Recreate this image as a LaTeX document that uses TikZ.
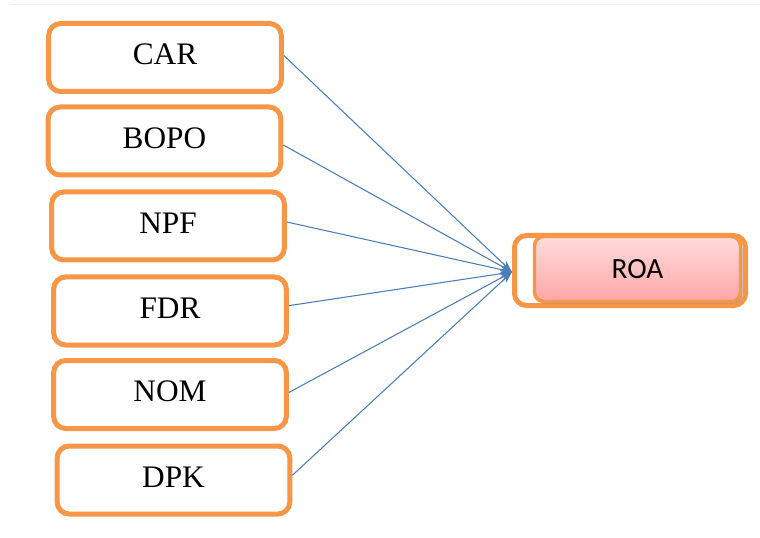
\documentclass[tikz,border=0pt]{standalone}
\usepackage{fontspec}
\setmainfont{Liberation Serif}
\newfontfamily\roafont{Carlito}
\usetikzlibrary{arrows.meta,shadows}
\definecolor{boxorange}{HTML}{F79646}
\definecolor{linkblue}{HTML}{4A7EBB}
\definecolor{pinktop}{HTML}{FFDCDC}
\definecolor{pinkbottom}{HTML}{FFA6A6}
\definecolor{rulegray}{HTML}{EEEEEE}
\begin{document}
\begin{tikzpicture}[x=0.75pt,y=-0.75pt,
  varbox/.style={draw=boxorange, line width=3.75pt, rounded corners=9pt,
    fill=white, inner sep=0pt, minimum width=174.5pt, minimum height=51pt,
    text height=15.5pt, text depth=4.5pt,
    font=\fontsize{23.5}{23.5}\selectfont, text=black},
  roaframe/.style={draw=boxorange, line width=3.75pt, rounded corners=9pt,
    fill=white, minimum width=173.25pt, minimum height=52.5pt},
  roabox/.style={draw=boxorange, line width=2.6pt, rounded corners=7pt,
    top color=pinktop, bottom color=pinkbottom, inner sep=0pt,
    minimum width=154.5pt, minimum height=48.75pt,
    drop shadow={shadow xshift=1.5pt, shadow yshift=-1.5pt, fill=gray!80, opacity=0.9},
    font=\roafont\fontsize{22}{22}\selectfont},
  link/.style={draw=linkblue, line width=0.8pt, -{Stealth[length=9pt,width=6pt]}}]
  \useasboundingbox (0,0) rectangle (760,538);
  % faint rule along the top edge
  \draw[rulegray, line width=0.75pt] (10,5) -- (760,5);

  % explanatory variables
  \node[varbox] (car)  at (165,57.5) {CAR};
  \node[varbox] (bopo) at (164.5,141) {BOPO};
  \node[varbox] (npf)  at (168,226) {NPF};
  \node[varbox] (fdr)  at (170,311) {FDR};
  \node[varbox] (nom)  at (170,394.5) {NOM};
  \node[varbox] (dpk)  at (173.5,480) {DPK};

  % dependent variable
  \node[roaframe] (roaframe) at (630,270.5) {};
  \node[roabox] (roa) at (637.5,269) {ROA};
  \coordinate (hub) at (512,272);

  % links into ROA
  \draw[link] ([yshift=1.5pt]car.east)  -- (hub);
  \draw[link] ([yshift=-3pt]bopo.east) -- (hub);
  \draw[link] ([yshift=3pt]npf.east)   -- (hub);
  \draw[link] ([yshift=4pt]fdr.east)   -- (hub);
  \draw[link] ([yshift=1.5pt]nom.east) -- (hub);
  \draw[link] ([yshift=3.5pt]dpk.east) -- (hub);
\end{tikzpicture}
\end{document}
